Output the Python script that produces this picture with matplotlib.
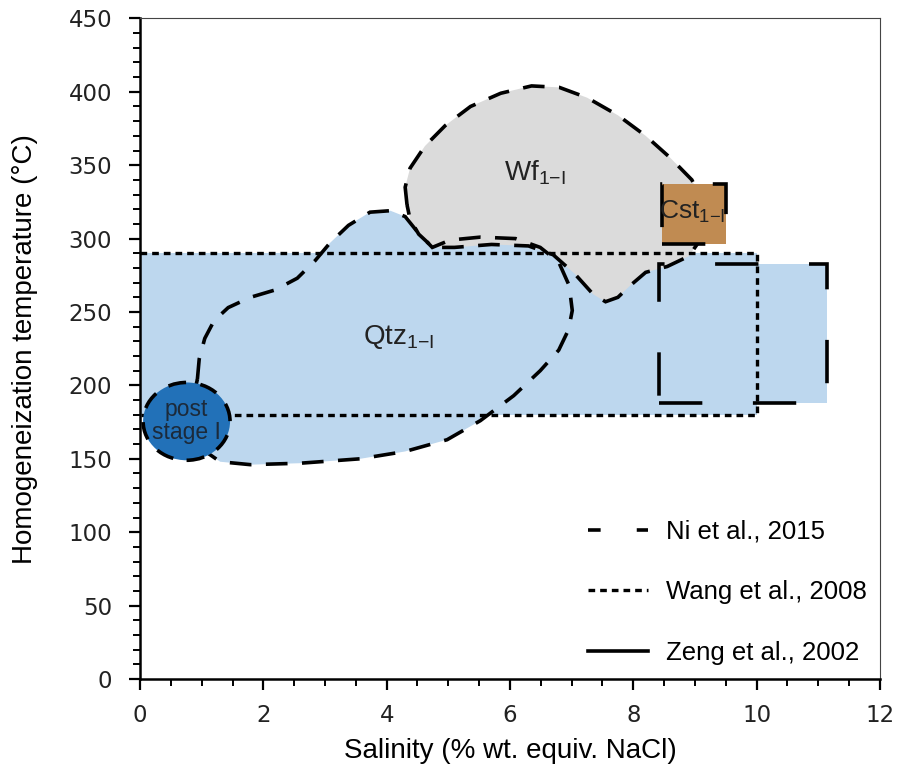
import numpy as np
import matplotlib.pyplot as plt
from matplotlib.patches import Polygon, Ellipse, Rectangle
from matplotlib.lines import Line2D
from matplotlib.ticker import MultipleLocator

plt.rcParams['font.family'] = ['Liberation Sans', 'DejaVu Sans']

# salinity (wt.% NaCl equiv.) / homogenization temperature (C) fields
qtz_sal = [0.93, 0.96, 1.05, 1.20, 1.43, 1.79, 2.19, 2.55, 2.84, 3.08, 3.38, 3.73,
           4.06, 4.30, 4.51, 4.74, 5.03, 5.52, 6.09, 6.49, 6.79, 6.96, 7.01, 6.95,
           6.79, 6.49, 6.06, 5.52, 4.98, 4.30, 3.57, 2.60, 1.79, 1.30, 1.06, 0.89, 0.81]
qtz_th = [204, 218, 232, 244, 253, 260, 265, 273, 285, 297, 309, 318,
          319, 315, 304, 294, 299, 301, 300, 294, 284, 268, 251, 238,
          224, 210, 193, 176, 163, 155, 150, 147, 146, 148, 155, 163, 183]

wf_sal = [4.33, 4.30, 4.38, 4.62, 4.95, 5.36, 5.85, 6.35, 6.80, 7.25, 7.75, 8.20,
          8.60, 8.95, 9.15, 9.10, 8.90, 8.55, 8.20, 7.95, 7.75, 7.55, 7.35, 7.05,
          6.70, 6.30, 5.70, 5.10, 4.75, 4.52, 4.38]
wf_th = [323, 335, 348, 363, 377, 390, 399, 404, 403, 396, 384, 370,
         355, 340, 322, 300, 288, 281, 277, 268, 260, 257, 262, 276,
         289, 295, 296, 294, 294, 303, 313]

wang_sal = [0, 10]
wang_th = [180, 290]

zeng_sal = [8.41, 11.14]
zeng_th = [188, 283]

cst_sal = [8.47, 9.50]
cst_th = [296, 337]

post_sal = [0.05, 1.46]
post_th = [149, 202]

c_blue = '#bdd7ee'
c_gray = '#dbdbdb'
c_cst = '#c08b52'
c_post = '#2271b8'

ni_ls = (0, (6, 4))
box_ls = (0, (12, 14))
dot_ls = (0, (2, 1.5))

fig = plt.figure(figsize=(8.97, 7.76), dpi=100)
ax = fig.add_axes([0.1561, 0.125, 0.8249, 0.8513])

# fills
ax.add_patch(Rectangle((wang_sal[0], wang_th[0]), wang_sal[1] - wang_sal[0],
                       wang_th[1] - wang_th[0], facecolor=c_blue, edgecolor='none', zorder=1))
ax.add_patch(Rectangle((zeng_sal[0], zeng_th[0]), zeng_sal[1] - zeng_sal[0],
                       zeng_th[1] - zeng_th[0], facecolor=c_blue, edgecolor='none', zorder=1))
ax.add_patch(Polygon(np.column_stack([qtz_sal, qtz_th]), closed=True,
                     facecolor=c_blue, edgecolor='none', zorder=2))
ax.add_patch(Polygon(np.column_stack([wf_sal, wf_th]), closed=True,
                     facecolor=c_gray, edgecolor='none', zorder=3))

# outlines
ax.add_patch(Polygon(np.column_stack([qtz_sal, qtz_th]), closed=True, fill=False,
                     edgecolor='black', lw=2.6, linestyle=ni_ls, zorder=5))
ax.add_patch(Polygon(np.column_stack([wf_sal, wf_th]), closed=True, fill=False,
                     edgecolor='black', lw=2.6, linestyle=ni_ls, zorder=5))
ax.plot([wang_sal[0], wang_sal[1], wang_sal[1], wang_sal[0]],
        [wang_th[1], wang_th[1], wang_th[0], wang_th[0]],
        color='black', lw=2.4, linestyle=dot_ls, zorder=6)
ax.add_patch(Rectangle((zeng_sal[0], zeng_th[0]), zeng_sal[1] - zeng_sal[0],
                       zeng_th[1] - zeng_th[0], fill=False, edgecolor='black',
                       lw=2.6, linestyle=box_ls, zorder=6))
ax.add_patch(Rectangle((cst_sal[0], cst_th[0]), cst_sal[1] - cst_sal[0],
                       cst_th[1] - cst_th[0], facecolor=c_cst, edgecolor='black',
                       lw=2.6, linestyle=box_ls, zorder=7))
ax.add_patch(Ellipse(((post_sal[0] + post_sal[1]) / 2, (post_th[0] + post_th[1]) / 2),
                     post_sal[1] - post_sal[0], post_th[1] - post_th[0],
                     facecolor=c_post, edgecolor='black', lw=2.6,
                     linestyle=(0, (5, 4)), zorder=8))

# field labels
ax.text(6.4, 345, r'Wf$_{\mathregular{1{-}I}}$', fontsize=20, ha='center', va='center',
        color='#222222', zorder=9)
ax.text(4.2, 233, r'Qtz$_{\mathregular{1{-}I}}$', fontsize=20, ha='center', va='center',
        color='#222222', zorder=9)
ax.text(8.95, 318, r'Cst$_{\mathregular{1{-}I}}$', fontsize=19, ha='center', va='center',
        color='#222222', zorder=9)
ax.text(0.75, 176, 'post\nstage I', fontsize=16.5, ha='center', va='center',
        color='#1c2a3a', linespacing=1.0, zorder=9)

ax.set_xlim(0, 12)
ax.set_ylim(0, 450)
ax.xaxis.set_major_locator(MultipleLocator(2))
ax.xaxis.set_minor_locator(MultipleLocator(0.5))
ax.yaxis.set_major_locator(MultipleLocator(50))
ax.yaxis.set_minor_locator(MultipleLocator(10))
ax.tick_params(which='major', direction='out', length=8, width=1.6, pad=12,
               labelsize=16.5, colors='black')
ax.tick_params(axis='x', which='major', pad=10)
ax.tick_params(which='minor', direction='out', length=5, width=1.4)
for lab in ax.get_xticklabels() + ax.get_yticklabels():
    lab.set_fontfamily('DejaVu Sans')
    lab.set_color('#222222')

for s in ['left', 'bottom']:
    ax.spines[s].set_linewidth(1.8)
for s in ['top', 'right']:
    ax.spines[s].set_linewidth(0.8)
    ax.spines[s].set_color('#444444')

ax.set_xlabel('Salinity (% wt. equiv. NaCl)', fontsize=20, labelpad=8)
ax.set_ylabel('Homogeneization temperature (°C)', fontsize=20, labelpad=22)

handles = [Line2D([], [], color='black', lw=2.6, linestyle=(0, (3.5, 10))),
           Line2D([], [], color='black', lw=2.4, linestyle=dot_ls),
           Line2D([], [], color='black', lw=2.6)]
ax.legend(handles, ['Ni et al., 2015', 'Wang et al., 2008', 'Zeng et al., 2002'],
          loc='upper left', bbox_to_anchor=(0.606, 0.241), frameon=False,
          fontsize=18.5, handlelength=2.3, handletextpad=0.7, labelspacing=1.42,
          borderpad=0, borderaxespad=0)

fig.savefig('out.png', dpi=100)
